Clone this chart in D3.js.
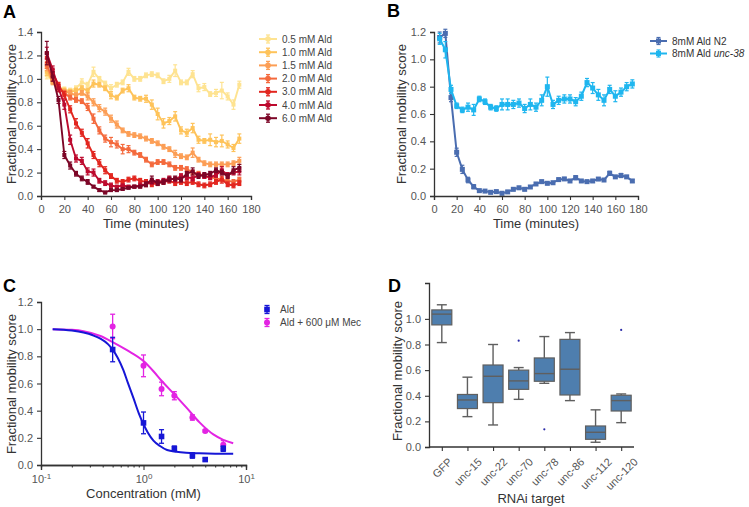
<!DOCTYPE html>
<html><head><meta charset="utf-8">
<script src="https://cdn.jsdelivr.net/npm/d3@7"></script>
<style>body{margin:0;background:#fff} svg{font-family:"Liberation Sans",Arial,sans-serif}</style>
</head><body>
<svg id="c" width="749" height="507"></svg>
<script>
// ================= DATA =================
// Panel A
const timesA = [5,10,15,20,25,30,35,40,45,50,55,60,65,70,75,80,85,90,95,100,105,110,115,120,125,130,135,140,145,150,155,160,165,170];
const labelsA = ["0.5 mM Ald","1.0 mM Ald","1.5 mM Ald","2.0 mM Ald","3.0 mM Ald","4.0 mM Ald","6.0 mM Ald"];
const colorsA = ["#fee391","#fec35a","#fc9e55","#f46a3d","#e2261f","#bd0a2e","#7c0627"];
const a05 = [1.03,0.98,0.93,0.91,0.90,0.92,0.97,0.95,1.06,1.00,0.96,0.92,0.95,0.97,1.06,1.00,1.00,1.03,1.04,1.03,0.98,1.00,1.07,0.97,0.97,1.04,0.92,0.93,0.87,0.88,0.90,0.85,0.78,0.95];
const e05 = [0.03,0.02,0.02,0.02,0.02,0.02,0.03,0.02,0.04,0.02,0.02,0.03,0.02,0.02,0.03,0.02,0.02,0.02,0.02,0.02,0.02,0.03,0.05,0.02,0.02,0.03,0.03,0.03,0.02,0.03,0.07,0.03,0.04,0.03];
const a10 = [1.06,0.98,0.92,0.90,0.89,0.90,0.92,0.90,0.96,0.95,0.92,0.86,0.84,0.90,0.92,0.84,0.83,0.83,0.78,0.70,0.62,0.64,0.68,0.56,0.54,0.58,0.48,0.47,0.48,0.46,0.47,0.44,0.41,0.49];
const e10 = [0.03,0.02,0.02,0.02,0.02,0.02,0.02,0.02,0.03,0.02,0.02,0.03,0.02,0.02,0.03,0.02,0.02,0.03,0.04,0.05,0.04,0.03,0.04,0.03,0.03,0.04,0.03,0.02,0.05,0.04,0.05,0.03,0.03,0.04];
const a15 = [1.10,0.97,0.91,0.89,0.88,0.86,0.88,0.85,0.80,0.75,0.72,0.66,0.61,0.56,0.53,0.52,0.51,0.49,0.47,0.45,0.42,0.40,0.36,0.34,0.33,0.37,0.31,0.28,0.27,0.27,0.27,0.27,0.28,0.30];
const e15 = [0.03,0.02,0.02,0.02,0.02,0.02,0.02,0.03,0.03,0.03,0.03,0.03,0.03,0.02,0.02,0.02,0.02,0.02,0.02,0.02,0.02,0.02,0.03,0.02,0.02,0.04,0.02,0.02,0.02,0.02,0.02,0.02,0.02,0.03];
const a20 = [1.12,1.00,0.92,0.88,0.84,0.82,0.81,0.76,0.66,0.56,0.49,0.46,0.44,0.40,0.40,0.37,0.35,0.31,0.27,0.29,0.29,0.27,0.24,0.24,0.23,0.20,0.19,0.17,0.16,0.15,0.14,0.13,0.12,0.14];
const e20 = [0.03,0.02,0.02,0.02,0.02,0.02,0.02,0.03,0.04,0.03,0.03,0.04,0.03,0.04,0.03,0.02,0.02,0.02,0.02,0.02,0.02,0.02,0.02,0.02,0.02,0.02,0.02,0.02,0.02,0.02,0.02,0.02,0.02,0.02];
const a30 = [1.18,1.05,0.95,0.86,0.74,0.62,0.54,0.45,0.35,0.28,0.22,0.17,0.13,0.12,0.14,0.15,0.13,0.12,0.10,0.11,0.12,0.13,0.11,0.12,0.11,0.12,0.10,0.09,0.10,0.12,0.14,0.10,0.09,0.11];
const e30 = [0.04,0.03,0.02,0.03,0.03,0.04,0.03,0.04,0.03,0.03,0.03,0.02,0.02,0.02,0.02,0.02,0.02,0.02,0.02,0.02,0.02,0.02,0.02,0.02,0.02,0.02,0.02,0.02,0.02,0.02,0.03,0.02,0.02,0.02];
const a40 = [1.22,1.08,0.92,0.78,0.48,0.32,0.30,0.21,0.20,0.13,0.11,0.09,0.08,0.09,0.08,0.08,0.09,0.10,0.12,0.12,0.13,0.15,0.14,0.17,0.16,0.15,0.18,0.17,0.16,0.18,0.22,0.18,0.20,0.21];
const e40 = [0.05,0.03,0.03,0.04,0.04,0.03,0.03,0.03,0.03,0.02,0.02,0.02,0.01,0.01,0.01,0.01,0.02,0.02,0.02,0.02,0.02,0.02,0.02,0.02,0.02,0.02,0.02,0.02,0.02,0.02,0.03,0.02,0.02,0.03];
const a60 = [1.22,1.02,0.82,0.35,0.26,0.19,0.15,0.12,0.08,0.05,0.03,0.05,0.05,0.06,0.07,0.08,0.08,0.10,0.14,0.11,0.12,0.14,0.15,0.14,0.19,0.21,0.17,0.18,0.19,0.22,0.20,0.17,0.22,0.24];
const e60 = [0.10,0.04,0.03,0.03,0.03,0.02,0.02,0.02,0.01,0.01,0.01,0.01,0.01,0.01,0.01,0.01,0.01,0.02,0.03,0.02,0.02,0.02,0.02,0.02,0.02,0.03,0.02,0.02,0.02,0.02,0.02,0.02,0.03,0.03];
const valuesA = [a05,a10,a15,a20,a30,a40,a60];
const errorsA = [e05,e10,e15,e20,e30,e40,e60];

// Panel B
const timesB = [5,10,15,20,25,30,35,40,45,50,55,60,65,70,75,80,85,90,95,100,105,110,115,120,125,130,135,140,145,150,155,160,165,170,175];
const labelsB = ["8mM Ald N2","8mM Ald "];
const colorsB = ["#4a6db0","#1fb6ef"];
const bN2 = [1.16,1.19,0.72,0.32,0.195,0.117,0.068,0.039,0.036,0.027,0.032,0.020,0.030,0.049,0.060,0.049,0.066,0.088,0.105,0.093,0.097,0.120,0.125,0.110,0.134,0.110,0.105,0.110,0.124,0.117,0.166,0.140,0.150,0.140,0.110];
const eN2 = [0.04,0.03,0.03,0.03,0.03,0.02,0.015,0.01,0.01,0.01,0.01,0.01,0.01,0.01,0.01,0.01,0.01,0.01,0.01,0.01,0.01,0.01,0.01,0.01,0.015,0.01,0.01,0.01,0.01,0.01,0.015,0.01,0.015,0.01,0.01];
const bU38 = [1.15,1.07,0.78,0.66,0.63,0.65,0.63,0.71,0.69,0.65,0.64,0.67,0.67,0.67,0.68,0.64,0.67,0.65,0.70,0.80,0.67,0.70,0.71,0.71,0.69,0.73,0.83,0.79,0.74,0.70,0.78,0.73,0.76,0.80,0.82];
const eU38 = [0.04,0.06,0.03,0.02,0.02,0.03,0.04,0.02,0.02,0.02,0.02,0.04,0.04,0.03,0.03,0.03,0.04,0.03,0.04,0.07,0.03,0.03,0.03,0.03,0.03,0.03,0.03,0.04,0.04,0.04,0.03,0.04,0.03,0.03,0.03];

// Panel C
const concC = [0.5,1.0,1.5,2.0,3.0,4.0,6.0];
const labelsC = ["Ald","Ald + 600 \u03bcM Mec"];
const colorsC = ["#1616d6","#e324e3"];
const cAld = [0.85,0.31,0.21,0.12,0.07,0.04,0.12];
const eAld = [0.09,0.08,0.05,0.02,0.02,0.01,0.02];
const cMec = [1.02,0.73,0.56,0.51,0.35,0.25,0.15];
const eMec = [0.09,0.08,0.05,0.03,0.02,0.01,0.03];
// fitted curves
const fitAldX = [0.13,0.2,0.26,0.32,0.38,0.45,0.5,0.56,0.635,0.7,0.8,0.9,1.0,1.1,1.25,1.45,1.7,2.1,2.6,3.5,5,7.5];
const fitAldY = [1.0,0.99,0.975,0.955,0.93,0.89,0.85,0.79,0.70,0.61,0.49,0.38,0.30,0.24,0.18,0.14,0.11,0.097,0.09,0.086,0.083,0.082];
const fitMecX = [0.13,0.2,0.26,0.38,0.5,0.69,1.0,1.25,1.5,2.0,2.64,3.56,4.8,6,7.5];
const fitMecY = [1.0,0.995,0.985,0.95,0.905,0.845,0.765,0.69,0.62,0.52,0.42,0.31,0.225,0.185,0.16];

// Panel D
const catsD = ["GFP","unc-15","unc-22","unc-70","unc-78","unc-86","unc-112","unc-120"];
const whiskLoD = [0.815,0.237,0.172,0.372,0.497,0.362,0.037,0.19];
const q1D      = [0.953,0.30,0.346,0.45,0.513,0.406,0.06,0.281];
const medD     = [1.037,0.367,0.552,0.516,0.573,0.607,0.115,0.362];
const q3D      = [1.07,0.41,0.64,0.60,0.695,0.84,0.164,0.404];
const whiskHiD = [1.11,0.545,0.80,0.62,0.862,0.893,0.29,0.414];
const outlierCatD = ["unc-70","unc-78","unc-120"];
const outlierValD = [0.83,0.138,0.914];

// ================= DRAWING =================
const svg = d3.select("#c");
const AX = "#333", TICK = "#555";

function styleAxis(g, fs) {
  g.select(".domain").attr("stroke", AX).attr("stroke-width", 1.3);
  g.selectAll(".tick line").attr("stroke", AX).attr("stroke-width", 1.1);
  g.selectAll(".tick text").attr("fill", TICK).attr("font-size", fs || 11)
    .attr("font-family", '"Liberation Sans", Arial, sans-serif');
}
function panelLetter(t, x, y) {
  svg.append("text").attr("x", x).attr("y", y).text(t)
    .attr("font-size", 18).attr("font-weight", "bold").attr("fill", "#000");
}
function yLabel(t, x, y) {
  svg.append("text").attr("transform", `translate(${x},${y}) rotate(-90)`)
    .attr("text-anchor", "middle").attr("dy", "0.35em").attr("font-size", 13).attr("fill", "#333").text(t);
}
function xLabel(t, x, y) {
  svg.append("text").attr("x", x).attr("y", y).attr("text-anchor", "middle")
    .attr("font-size", 13).attr("fill", "#333").text(t);
}
function errBar(g, cx, y1, y2, color, cap, w) {
  g.append("line").attr("x1", cx).attr("x2", cx).attr("y1", y1).attr("y2", y2)
    .attr("stroke", color).attr("stroke-width", w);
  [y1, y2].forEach(yy => g.append("line").attr("x1", cx - cap).attr("x2", cx + cap)
    .attr("y1", yy).attr("y2", yy).attr("stroke", color).attr("stroke-width", w));
}
function series(g, xs, ys, es, x, y, color, ms, lw) {
  g.append("path").datum(ys)
    .attr("d", d3.line().x((d, i) => x(xs[i])).y(d => y(d)))
    .attr("fill", "none").attr("stroke", color).attr("stroke-width", lw).attr("stroke-linejoin", "round");
  ys.forEach((v, i) => errBar(g, x(xs[i]), y(v - es[i]), y(v + es[i]), color, 2, 1.2));
  g.selectAll(null).data(ys).join("rect")
    .attr("x", (d, i) => x(xs[i]) - ms / 2).attr("y", d => y(d) - ms / 2)
    .attr("width", ms).attr("height", ms).attr("fill", color);
}

// ---------- Panel A ----------
{
  const x = d3.scaleLinear([0, 180], [41, 251]);
  const y = d3.scaleLinear([0, 1.4], [196, 32]);
  const gA = svg.append("g");
  valuesA.forEach((vals, k) => series(gA, timesA, vals, errorsA[k], x, y, colorsA[k], 4, 1.9));
  styleAxis(svg.append("g").attr("transform", "translate(0,196)")
    .call(d3.axisBottom(x).tickValues([0,20,40,60,80,100,120,140,160,180]).tickSize(4).tickPadding(5)));
  styleAxis(svg.append("g").attr("transform", "translate(41,0)")
    .call(d3.axisLeft(y).tickValues([0,0.2,0.4,0.6,0.8,1.0,1.2,1.4]).tickFormat(d3.format(".1f")).tickSize(4).tickPadding(4)));
  panelLetter("A", 3, 18);
  yLabel("Fractional mobility score", 11, 114);
  xLabel("Time (minutes)", 146, 228);
  const lg = svg.append("g");
  labelsA.forEach((t, k) => {
    const yy = 39 + k * 13.2;
    lg.append("line").attr("x1", 259).attr("x2", 277).attr("y1", yy).attr("y2", yy)
      .attr("stroke", colorsA[k]).attr("stroke-width", 2);
    errBar(lg, 268, yy - 4, yy + 4, colorsA[k], 2, 1.3);
    lg.append("circle").attr("cx", 268).attr("cy", yy).attr("r", 2.8).attr("fill", colorsA[k]);
    lg.append("text").attr("x", 282).attr("y", yy).attr("dy", "0.35em")
      .attr("font-size", 10).attr("fill", "#444").text(t);
  });
}

// ---------- Panel B ----------
{
  const x = d3.scaleLinear([0, 180], [434, 638]);
  const y = d3.scaleLinear([0, 1.2], [196, 32]);
  const gB = svg.append("g");
  series(gB, timesB, bN2, eN2, x, y, colorsB[0], 5, 2);
  series(gB, timesB, bU38, eU38, x, y, colorsB[1], 5, 2);
  styleAxis(svg.append("g").attr("transform", "translate(0,196)")
    .call(d3.axisBottom(x).tickValues([0,20,40,60,80,100,120,140,160,180]).tickSize(4).tickPadding(5)));
  styleAxis(svg.append("g").attr("transform", "translate(434,0)")
    .call(d3.axisLeft(y).tickValues([0,0.2,0.4,0.6,0.8,1.0,1.2]).tickFormat(d3.format(".1f")).tickSize(4).tickPadding(4)));
  panelLetter("B", 387, 17);
  yLabel("Fractional mobility score", 401, 114);
  xLabel("Time (minutes)", 536, 228);
  const lg = svg.append("g");
  labelsB.forEach((t, k) => {
    const yy = 41 + k * 12.5;
    lg.append("line").attr("x1", 650).attr("x2", 667).attr("y1", yy).attr("y2", yy)
      .attr("stroke", colorsB[k]).attr("stroke-width", 2);
    errBar(lg, 658.5, yy - 3.5, yy + 3.5, colorsB[k], 2, 1.2);
    lg.append("rect").attr("x", 656).attr("y", yy - 2.5).attr("width", 5).attr("height", 5).attr("fill", colorsB[k]);
    const tx = lg.append("text").attr("x", 672).attr("y", yy).attr("dy", "0.35em")
      .attr("font-size", 10).attr("fill", "#333").text(t);
    if (k === 1) tx.append("tspan").attr("font-style", "italic").text("unc-38");
  });
}

// ---------- Panel C ----------
{
  const x = d3.scaleLog([0.1, 10], [41, 246]);
  const y = d3.scaleLinear([0, 1.2], [465, 302]);
  const gC = svg.append("g");
  const ln = d3.line().x(d => x(d[0])).y(d => y(d[1])).curve(d3.curveMonotoneX);
  gC.append("path").datum(fitMecX.map((c, i) => [c, fitMecY[i]])).attr("d", ln)
    .attr("fill", "none").attr("stroke", colorsC[1]).attr("stroke-width", 2);
  gC.append("path").datum(fitAldX.map((c, i) => [c, fitAldY[i]])).attr("d", ln)
    .attr("fill", "none").attr("stroke", colorsC[0]).attr("stroke-width", 2);
  cMec.forEach((v, i) => errBar(gC, x(concC[i]), y(v - eMec[i]), y(v + eMec[i]), colorsC[1], 2.5, 1.3));
  gC.selectAll(null).data(cMec).join("circle").attr("cx", (d, i) => x(concC[i])).attr("cy", d => y(d))
    .attr("r", 3).attr("fill", colorsC[1]);
  cAld.forEach((v, i) => errBar(gC, x(concC[i]), y(v - eAld[i]), y(v + eAld[i]), colorsC[0], 2.5, 1.3));
  gC.selectAll(null).data(cAld).join("rect").attr("x", (d, i) => x(concC[i]) - 2.8).attr("y", d => y(d) - 2.8)
    .attr("width", 5.6).attr("height", 5.6).attr("fill", colorsC[0]);
  // axes
  const minor = [0.2,0.3,0.4,0.5,0.6,0.7,0.8,0.9,2,3,4,5,6,7,8,9];
  const gx = svg.append("g").attr("transform", "translate(0,465)")
    .call(d3.axisBottom(x).tickValues(minor).tickSize(2.5).tickFormat(""));
  styleAxis(gx);
  const gx2 = svg.append("g").attr("transform", "translate(0,465)")
    .call(d3.axisBottom(x).tickValues([0.1, 1, 10]).tickSize(5).tickPadding(4).tickFormat(""));
  styleAxis(gx2);
  const exps = ["-1", "0", "1"];
  gx2.selectAll(".tick").each(function (d, i) {
    const t = d3.select(this).append("text").attr("y", 18).attr("text-anchor", "middle")
      .attr("fill", TICK).attr("font-size", 11).attr("font-family", '"Liberation Sans", Arial, sans-serif');
    t.append("tspan").text("10");
    t.append("tspan").attr("dy", -4).attr("font-size", 8).text(exps[i]);
  });
  styleAxis(svg.append("g").attr("transform", "translate(41,0)")
    .call(d3.axisLeft(y).tickValues([0,0.2,0.4,0.6,0.8,1.0,1.2]).tickFormat(d3.format(".1f")).tickSize(4).tickPadding(4)));
  panelLetter("C", 3, 292);
  yLabel("Fractional mobility score", 11, 384);
  xLabel("Concentration (mM)", 143.5, 498);
  const lg = svg.append("g");
  labelsC.forEach((t, k) => {
    const yy = 309.5 + k * 13;
    errBar(lg, 267, yy - 4, yy + 4, colorsC[k], 2.5, 1.3);
    if (k === 0) lg.append("rect").attr("x", 264.2).attr("y", yy - 2.8).attr("width", 5.6).attr("height", 5.6).attr("fill", colorsC[k]);
    else lg.append("circle").attr("cx", 267).attr("cy", yy).attr("r", 3).attr("fill", colorsC[k]);
    lg.append("text").attr("x", 280).attr("y", yy).attr("dy", "0.35em")
      .attr("font-size", 10).attr("fill", "#444").text(t);
  });
}

// ---------- Panel D ----------
{
  const x = d3.scalePoint(catsD, [429, 634]).padding(0.5);
  const y = d3.scaleLinear([0, 1.28], [447, 283]);
  const bw = x.step() * 0.78;
  const gD = svg.append("g");
  const EDGE = "#5f5f5f";
  catsD.forEach((c, i) => {
    const cx = x(c);
    gD.append("line").attr("x1", cx).attr("x2", cx).attr("y1", y(whiskLoD[i])).attr("y2", y(q1D[i])).attr("stroke", EDGE).attr("stroke-width", 1.4);
    gD.append("line").attr("x1", cx).attr("x2", cx).attr("y1", y(q3D[i])).attr("y2", y(whiskHiD[i])).attr("stroke", EDGE).attr("stroke-width", 1.4);
    [whiskLoD[i], whiskHiD[i]].forEach(v => gD.append("line").attr("x1", cx - bw / 4).attr("x2", cx + bw / 4)
      .attr("y1", y(v)).attr("y2", y(v)).attr("stroke", EDGE).attr("stroke-width", 1.4));
    gD.append("rect").attr("x", cx - bw / 2).attr("width", bw).attr("y", y(q3D[i])).attr("height", y(q1D[i]) - y(q3D[i]))
      .attr("fill", "#4e7eae").attr("stroke", EDGE).attr("stroke-width", 1.2);
    gD.append("line").attr("x1", cx - bw / 2).attr("x2", cx + bw / 2).attr("y1", y(medD[i])).attr("y2", y(medD[i]))
      .attr("stroke", EDGE).attr("stroke-width", 1.4);
  });
  outlierValD.forEach((v, i) => gD.append("circle").attr("cx", x(outlierCatD[i])).attr("cy", y(v)).attr("r", 1.1).attr("fill", "#2a2aa8"));
  const gx = svg.append("g").attr("transform", "translate(0,447)")
    .call(d3.axisBottom(x).tickSize(4).tickFormat(""));
  styleAxis(gx);
  gx.select(".domain").attr("d", "M429,0H634");
  gx.selectAll(".tick").each(function (d) {
    const t = d3.select(this).append("text").attr("text-anchor", "middle").attr("dy", "0.35em")
      .attr("fill", TICK).attr("font-size", 11).attr("font-family", '"Liberation Sans", Arial, sans-serif').text(d);
    const L = t.node().getComputedTextLength();
    const h = (L + 11) * 0.7071;
    t.attr("transform", `translate(0,${9 + h / 2}) rotate(-45)`);
  });
  styleAxis(svg.append("g").attr("transform", "translate(429,0)")
    .call(d3.axisLeft(y).tickValues([0,0.2,0.4,0.6,0.8,1.0]).tickFormat(d3.format(".1f")).tickSize(4).tickPadding(4)));
  panelLetter("D", 388, 292);
  yLabel("Fractional mobility score", 397, 371);
  xLabel("RNAi target", 531, 503);
}
</script>
</body></html>
